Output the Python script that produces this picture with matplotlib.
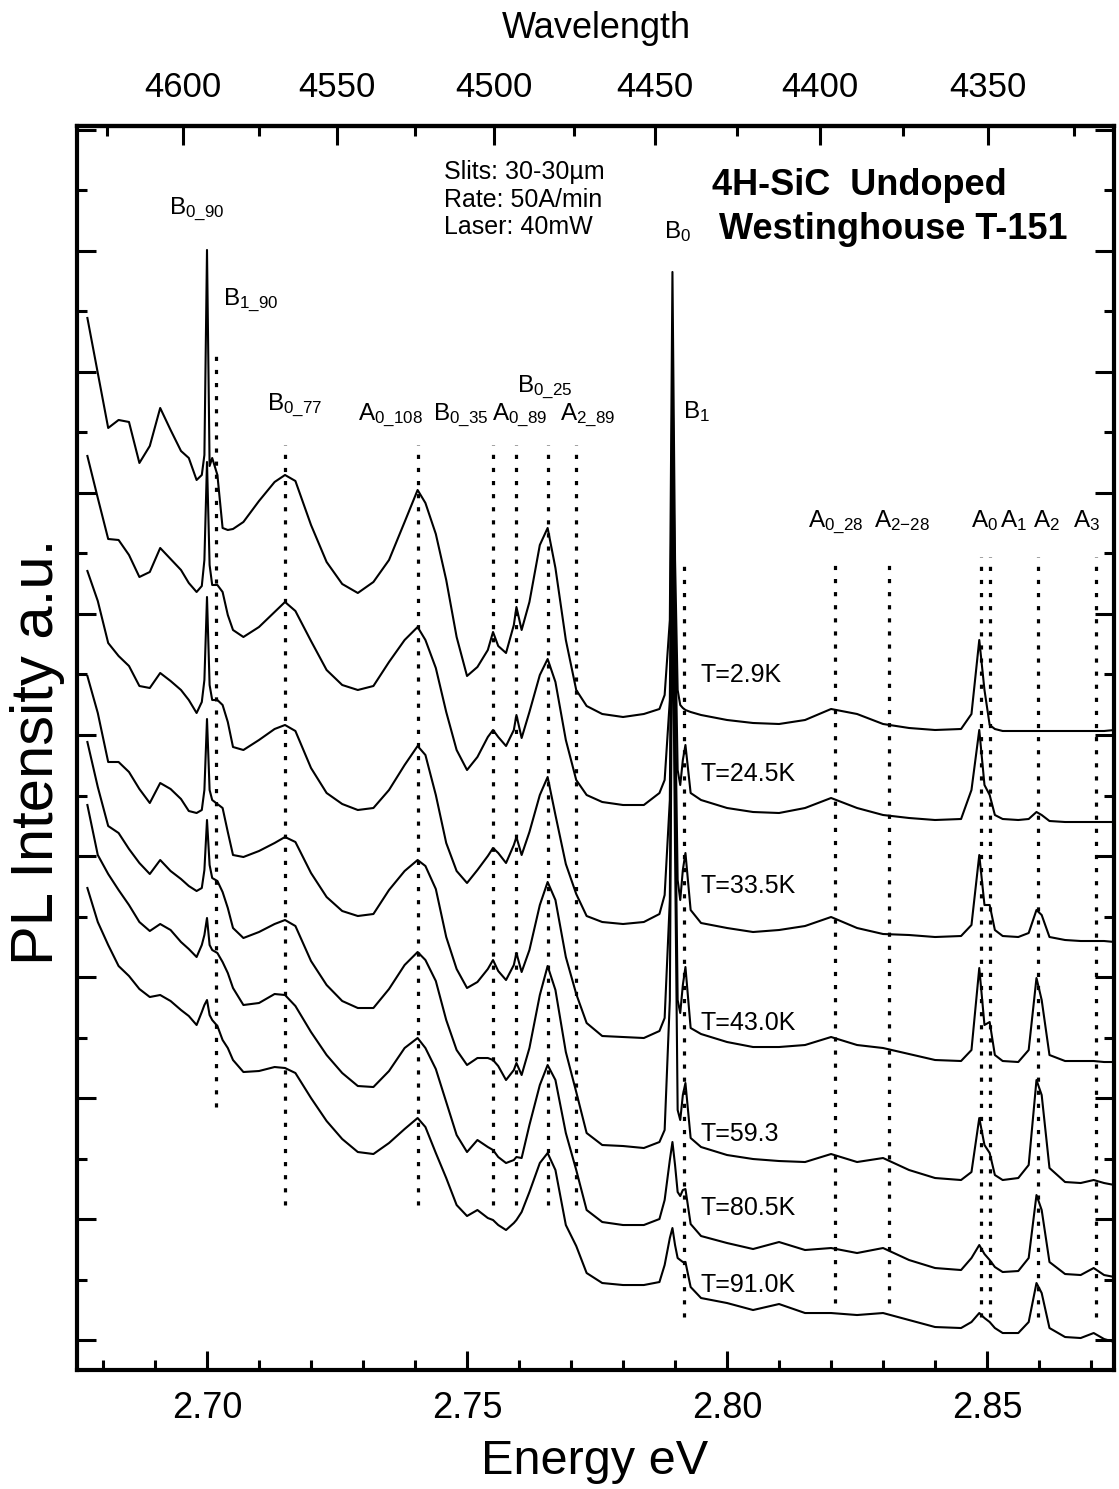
import numpy as np
import matplotlib.pyplot as plt
from matplotlib.ticker import MultipleLocator, FixedLocator, FormatStrFormatter

plt.rcParams['font.family'] = ['Liberation Sans', 'DejaVu Sans']
plt.rcParams['mathtext.fontset'] = 'custom'
plt.rcParams['mathtext.rm'] = 'Liberation Sans'
plt.rcParams['mathtext.default'] = 'regular'

# photon energy grid (eV), shared by every spectrum
energy_ev = [2.677, 2.679, 2.681, 2.683, 2.685, 2.687, 2.689, 2.691, 2.693, 2.695,
             2.6965, 2.698, 2.699, 2.6995, 2.700, 2.7005, 2.701, 2.702, 2.703, 2.704,
             2.705, 2.707, 2.710, 2.713, 2.715, 2.717, 2.720, 2.723, 2.726, 2.729,
             2.732, 2.735, 2.738, 2.7405, 2.742, 2.744, 2.746, 2.748, 2.750, 2.752,
             2.754, 2.755, 2.756, 2.7575, 2.759, 2.7595, 2.7605, 2.762, 2.764, 2.7655,
             2.767, 2.769, 2.771, 2.773, 2.776, 2.780, 2.784, 2.787, 2.788, 2.789,
             2.7895, 2.790, 2.7905, 2.791, 2.7915, 2.792, 2.793, 2.795, 2.800, 2.805,
             2.810, 2.815, 2.820, 2.825, 2.830, 2.835, 2.840, 2.845, 2.847, 2.8485,
             2.8495, 2.8505, 2.8515, 2.853, 2.856, 2.858, 2.8595, 2.8605, 2.862, 2.865,
             2.868, 2.8705, 2.8725, 2.8745]

# PL intensity (a.u.), spectra already stacked with their vertical offsets
pl_2p9K = [1022, 967, 912, 920, 918, 877, 894, 932, 910, 889,
           882, 860, 865, 885, 1090, 874, 882, 865, 812, 810,
           811, 818, 839, 858, 865, 859, 815, 778, 756, 747,
           758, 780, 818, 850, 837, 806, 760, 703, 664, 673,
           690, 708, 694, 687, 715, 733, 710, 738, 795, 812,
           772, 700, 650, 634, 626, 623, 626, 631, 645, 720,
           1068, 780, 650, 635, 632, 630, 628, 625, 620, 617,
           616, 620, 631, 626, 616, 612, 610, 611, 626, 700,
           650, 615, 611, 609, 609, 609, 609, 609, 609, 609,
           609, 609, 609, 610]
pl_24p5K = [884, 842, 801, 800, 785, 763, 768, 792, 781, 770,
            757, 748, 754, 780, 878, 775, 755, 755, 748, 725,
            710, 703, 713, 728, 738, 729, 699, 670, 655, 650,
            654, 678, 700, 713, 700, 672, 628, 590, 570, 583,
            603, 610, 603, 594, 610, 625, 602, 628, 665, 681,
            658, 600, 560, 545, 538, 535, 535, 547, 560, 640,
            977, 720, 570, 555, 580, 595, 547, 540, 532, 528,
            527, 532, 542, 532, 525, 522, 520, 521, 550, 610,
            555, 545, 525, 521, 520, 521, 528, 525, 519, 518,
            518, 518, 518, 518]
pl_33p5K = [769, 739, 697, 684, 674, 654, 652, 667, 659, 650,
            640, 627, 638, 660, 743, 655, 640, 640, 635, 618,
            593, 590, 600, 611, 615, 609, 572, 547, 536, 530,
            532, 550, 575, 594, 585, 545, 497, 469, 457, 470,
            484, 492, 487, 477, 495, 503, 485, 508, 545, 563,
            525, 476, 446, 424, 418, 416, 418, 426, 445, 540,
            910, 640, 460, 440, 470, 487, 430, 417, 412, 408,
            410, 414, 423, 412, 406, 405, 403, 404, 415, 485,
            435, 435, 410, 404, 403, 407, 430, 425, 403, 400,
            399, 399, 399, 398]
pl_43p0K = [664, 627, 578, 578, 568, 551, 537, 557, 551, 541,
            529, 527, 530, 550, 621, 550, 540, 536, 532, 508,
            485, 483, 489, 497, 503, 498, 467, 443, 429, 424,
            426, 450, 469, 480, 474, 451, 403, 371, 352, 358,
            371, 380, 369, 360, 375, 387, 368, 390, 435, 458,
            440, 383, 346, 317, 304, 303, 302, 309, 322, 440,
            840, 560, 340, 327, 355, 373, 312, 306, 298, 293,
            293, 295, 303, 295, 292, 286, 280, 279, 290, 372,
            315, 318, 285, 279, 278, 290, 362, 340, 285, 279,
            279, 279, 278, 278]
pl_59p3K = [598, 553, 514, 507, 491, 477, 466, 480, 469, 461,
            454, 449, 452, 470, 520, 475, 462, 459, 448, 432,
            412, 402, 408, 416, 420, 414, 379, 355, 339, 332,
            332, 351, 375, 388, 380, 359, 320, 290, 275, 282,
            282, 280, 274, 260, 270, 277, 265, 292, 345, 374,
            350, 288, 248, 207, 195, 194, 192, 198, 210, 340,
            780, 490, 230, 220, 245, 257, 202, 193, 185, 181,
            179, 178, 186, 178, 182, 170, 162, 160, 168, 222,
            195, 187, 165, 160, 162, 175, 260, 245, 172, 158,
            157, 160, 157, 155]
pl_80p5K = [535, 485, 466, 450, 435, 418, 409, 416, 410, 398,
            391, 383, 395, 405, 422, 395, 390, 387, 378, 367,
            352, 335, 337, 346, 345, 334, 308, 285, 267, 254,
            253, 269, 292, 302, 292, 271, 238, 205, 188, 200,
            193, 190, 183, 177, 180, 183, 182, 215, 255, 275,
            260, 207, 170, 130, 118, 115, 115, 121, 140, 180,
            198, 175, 148, 144, 150, 151, 116, 104, 97, 91,
            98, 90, 92, 87, 92, 80, 72, 70, 82, 95,
            86, 80, 73, 68, 69, 82, 145, 130, 78, 66,
            65, 72, 65, 63]
pl_91p0K = [452, 418, 395, 374, 364, 351, 343, 345, 339, 330,
            324, 315, 328, 335, 340, 325, 320, 314, 300, 292,
            280, 268, 269, 273, 272, 267, 242, 219, 201, 188,
            186, 197, 211, 222, 213, 187, 162, 135, 124, 130,
            122, 120, 115, 110, 117, 120, 128, 148, 177, 187,
            170, 115, 94, 67, 57, 55, 55, 58, 75, 102,
            112, 95, 82, 80, 78, 78, 53, 42, 37, 30,
            36, 27, 27, 25, 27, 20, 13, 12, 18, 27,
            22, 18, 12, 7, 7, 18, 57, 47, 12, 3,
            2, 7, 1, -2]

spectra = [pl_2p9K, pl_24p5K, pl_33p5K, pl_43p0K, pl_59p3K, pl_80p5K, pl_91p0K]
temp_labels = ['T=2.9K', 'T=24.5K', 'T=33.5K', 'T=43.0K', 'T=59.3', 'T=80.5K', 'T=91.0K']
temp_label_y = [665, 566, 454, 317, 206, 132, 55]

# assigned lines: energy (eV) and the span of the dotted marker
line_ev = [2.7017, 2.715, 2.7405, 2.755, 2.7595, 2.7655, 2.7710, 2.7917,
           2.8208, 2.8311, 2.8488, 2.8506, 2.8597, 2.8709]
line_top = [992, 895, 895, 895, 895, 895, 895, 782, 783, 783, 783, 783, 783, 783]
line_bottom = [233, 135, 135, 135, 135, 135, 135, 23, 37, 37, 23, 23, 23, 23]

# peak labels and their anchors (eV, a.u.)
label_text = [r'B$_{0\_90}$', r'B$_{1\_90}$', r'B$_{0\_77}$', r'A$_{0\_108}$', r'B$_{0\_35}$',
              r'A$_{0\_89}$', r'A$_{2\_89}$', r'B$_{0\_25}$', r'B$_{0}$', r'B$_{1}$',
              r'A$_{0\_28}$', r'A$_{2\mathrm{-}28}$', r'A$_{0}$', r'A$_{1}$', r'A$_{2}$', r'A$_{3}$']
label_x = [2.6927, 2.7031, 2.7115, 2.7290, 2.7435, 2.7548, 2.7679, 2.7596, 2.7879, 2.7915,
           2.8156, 2.8283, 2.8469, 2.8525, 2.8588, 2.8665]
label_y = [1126, 1035, 930, 920, 920, 920, 920, 948, 1102, 922,
           813, 813, 813, 813, 813, 813]

wl_major = [4350, 4400, 4450, 4500, 4550, 4600]
wl_minor = [4325, 4375, 4425, 4475, 4525, 4575, 4625]


def ev_to_ang(e):
    e = np.asarray(e, dtype=float)
    with np.errstate(divide='ignore'):
        return 12398.4 / e


fig = plt.figure(figsize=(11.19, 14.89), dpi=100)
ax = fig.add_axes([0.0688, 0.0799, 0.9267, 0.8355])

for s in spectra:
    ax.plot(energy_ev, s, color='black', lw=1.5)

for x, y0, y1 in zip(line_ev, line_bottom, line_top):
    ax.plot([x, x], [y0, y1], color='black', lw=2.3, ls=(0, (1.3, 2.8)),
            dash_capstyle='butt')

for t, x, y in zip(label_text, label_x, label_y):
    ax.text(x, y, t, fontsize=17.5, ha='left', va='baseline')

for t, y in zip(temp_labels, temp_label_y):
    ax.text(2.7948, y, t, fontsize=18, ha='left', va='center')

ax.text(2.7456, 1168, 'Slits: 30-30µm', fontsize=18, ha='left', va='center')
ax.text(2.7456, 1140, 'Rate: 50A/min', fontsize=18, ha='left', va='center')
ax.text(2.7456, 1113, 'Laser: 40mW', fontsize=18, ha='left', va='center')
ax.text(2.7971, 1154, '4H-SiC  Undoped', fontsize=26, fontweight='bold', ha='left', va='center')
ax.text(2.7985, 1110, 'Westinghouse T-151', fontsize=26, fontweight='bold', ha='left', va='center')

ax.set_xlim(2.675, 2.8744)
ax.set_ylim(-30, 1214)
ax.xaxis.set_major_locator(MultipleLocator(0.05))
ax.xaxis.set_minor_locator(MultipleLocator(0.01))
ax.xaxis.set_major_formatter(FormatStrFormatter('%.2f'))
ax.yaxis.set_major_locator(MultipleLocator(121))
ax.yaxis.set_minor_locator(MultipleLocator(60.5))
ax.tick_params(which='both', direction='in', top=False, right=True, width=2.2,
               labelleft=False, labelsize=26, pad=15)
ax.tick_params(which='major', length=14)
ax.tick_params(which='minor', length=7)
for sp in ax.spines.values():
    sp.set_linewidth(3)

secax = ax.secondary_xaxis('top', functions=(ev_to_ang, ev_to_ang))
secax.xaxis.set_major_locator(FixedLocator(wl_major))
secax.xaxis.set_minor_locator(FixedLocator(wl_minor))
secax.xaxis.set_major_formatter(FormatStrFormatter('%d'))
secax.tick_params(which='both', direction='in', width=2.2, labelsize=25, pad=16)
secax.tick_params(which='major', length=14)
secax.tick_params(which='minor', length=7)
secax.spines['top'].set_linewidth(3)

fig.text(596 / 1119, 1 - 28 / 1489, 'Wavelength', fontsize=26, ha='center', va='center')
fig.text(595 / 1119, 15 / 1489, 'Energy eV', fontsize=35, ha='center', va='baseline')
fig.text(38 / 1119, 1 - 752 / 1489, 'PL Intensity a.u.', fontsize=43, rotation=90,
         ha='center', va='center')

fig.savefig('out.png', dpi=100)
